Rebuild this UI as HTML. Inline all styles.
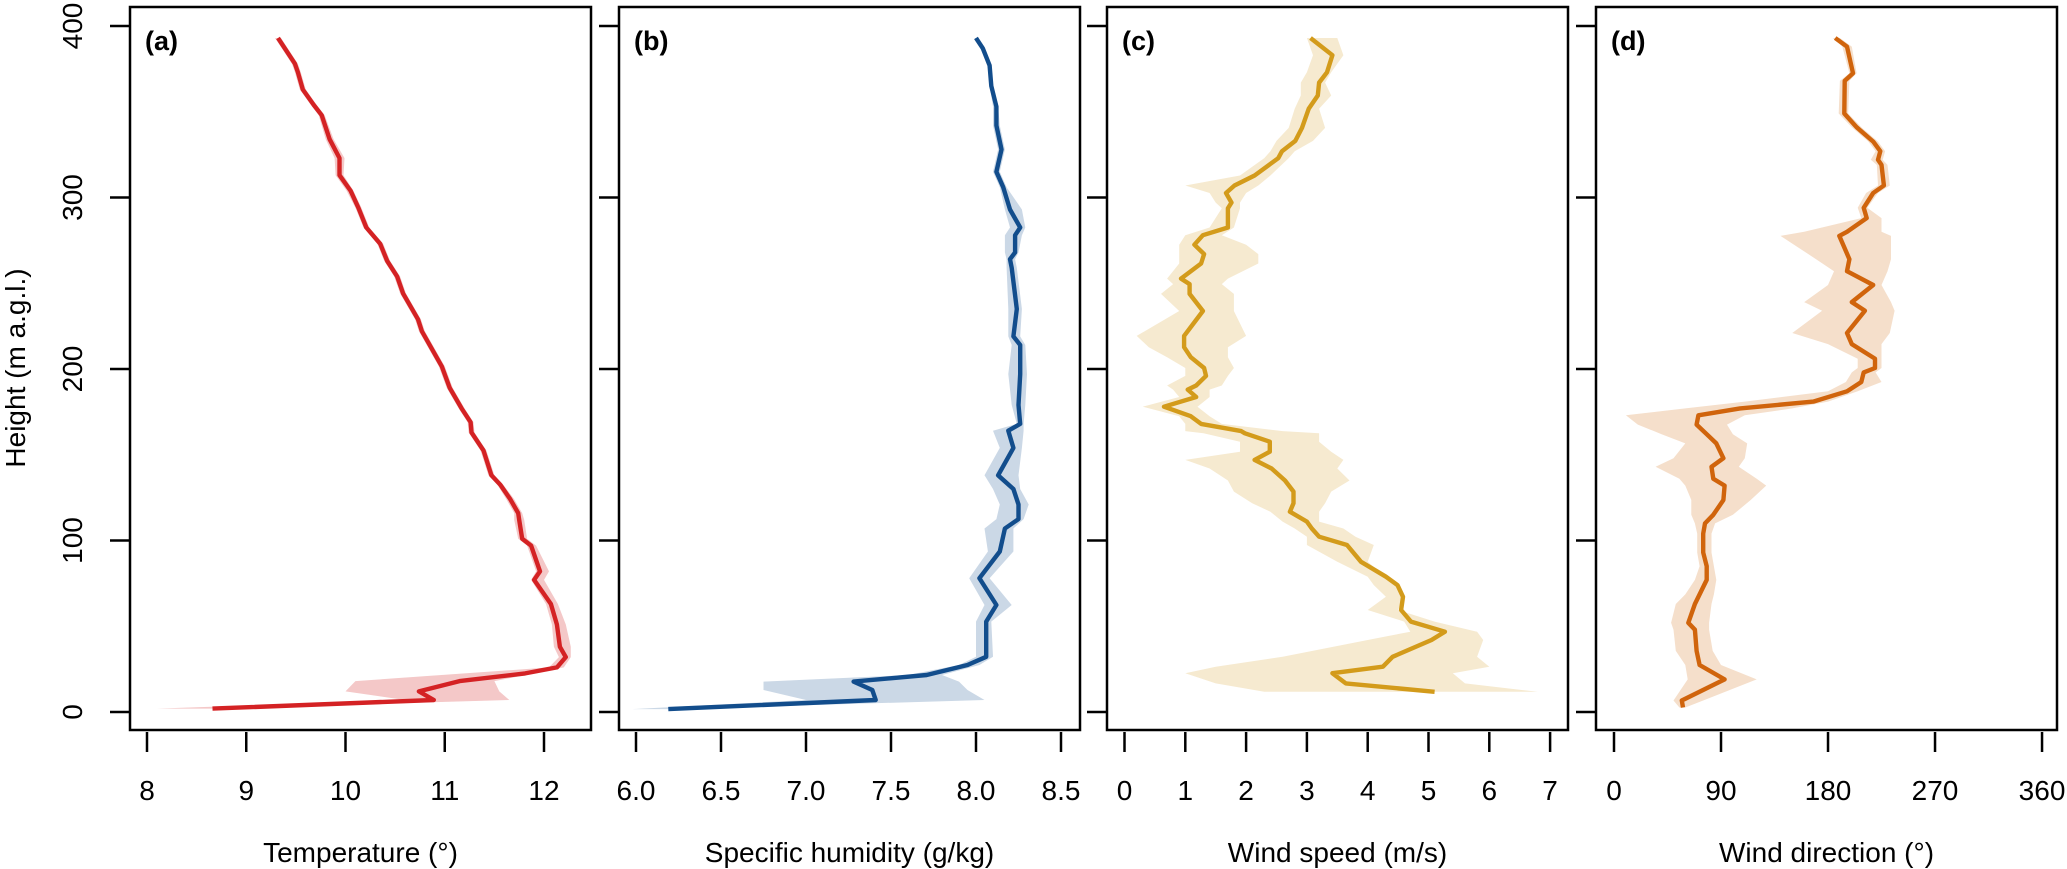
<!DOCTYPE html>
<html><head><meta charset="utf-8"><style>
html,body{margin:0;padding:0;background:#fff;}
svg{display:block;font-family:"Liberation Sans",Arial,sans-serif;}
</style></head><body>
<svg id="fig" width="2067" height="869" viewBox="0 0 2067 869"></svg>
<script>
// Panel (a) temperature
const tempHeights=[393,378,373,363,354,348,334,323,313,304,294,282.5,273,263,254,244,229,222,201.5,189,177,169,163,152.5,138,132.5,124,116,112,101,97,82,77,63,51,38,32,26,22.5,18,12,7,2];
const tempValues=[9.32,9.49,9.52,9.57,9.68,9.76,9.84,9.94,9.94,10.05,10.13,10.21,10.35,10.42,10.52,10.58,10.73,10.77,10.97,11.05,11.17,11.26,11.27,11.39,11.47,11.56,11.66,11.74,11.75,11.78,11.87,11.96,11.90,12.07,12.13,12.16,12.22,12.13,11.81,11.15,10.74,10.89,8.66];
const tempLo=[9.29,9.46,9.49,9.54,9.65,9.73,9.80,9.89,9.90,10.01,10.10,10.18,10.32,10.39,10.49,10.55,10.70,10.74,10.94,11.02,11.14,11.23,11.24,11.36,11.44,11.53,11.62,11.70,11.70,11.74,11.83,11.92,11.87,12.02,12.08,12.10,12.15,12.05,11.2,10.1,10.0,10.6,8.1];
const tempHi=[9.35,9.52,9.55,9.60,9.71,9.79,9.88,9.99,9.98,10.08,10.16,10.24,10.38,10.45,10.55,10.61,10.76,10.80,11.00,11.08,11.20,11.29,11.30,11.42,11.50,11.59,11.70,11.78,11.80,11.83,11.92,12.05,12.00,12.14,12.22,12.27,12.27,12.20,11.9,11.5,11.55,11.65,8.7];
// Panel (b) specific humidity
const humHeights=[393,387,377,365,353,342,328,315,306,293,282.5,278,268,264,259,235,219,214,197,179,168,164,154,138,130,121,112.5,107,93.6,78,62.4,52.7,32.2,27.4,21.6,17.7,12.8,7,1.7];
const humValues=[8.00,8.04,8.08,8.09,8.12,8.12,8.15,8.12,8.16,8.20,8.26,8.23,8.23,8.20,8.21,8.24,8.22,8.26,8.26,8.25,8.26,8.19,8.22,8.13,8.22,8.25,8.25,8.17,8.14,8.02,8.12,8.06,8.06,7.95,7.71,7.28,7.39,7.41,6.19];
const humLo=[7.99,8.03,8.07,8.08,8.10,8.10,8.13,8.10,8.14,8.17,8.20,8.17,8.17,8.18,8.18,8.19,8.19,8.21,8.19,8.21,8.24,8.10,8.14,8.05,8.10,8.14,8.12,8.05,8.07,7.96,8.05,8.00,8.00,7.90,7.60,6.75,6.75,7.00,5.98];
const humHi=[8.01,8.05,8.09,8.10,8.13,8.14,8.17,8.14,8.18,8.27,8.29,8.27,8.25,8.23,8.24,8.27,8.26,8.29,8.30,8.29,8.28,8.28,8.27,8.25,8.26,8.31,8.28,8.22,8.22,8.08,8.21,8.09,8.10,8.02,7.80,7.90,7.95,8.05,6.25];
// Panel (c) wind speed
const wsHeights=[393,383,373,367,359.5,351.7,340.6,333,327,323,312.8,307,302.6,297,293.7,282.5,278,272.5,267,261.5,252.7,249.5,243.8,233.8,219.3,212.7,206.9,200.6,196,190.4,188,183.7,178,172.5,168,163.8,162.5,157.6,151.8,147,142,135,128.5,121.7,116.8,111,107,102.2,97.4,87.6,78.9,74,67.2,59.5,52.7,46.8,42,32.2,26.4,22.6,16.7,11.8];
const wsValues=[3.06,3.42,3.33,3.2,3.18,3.03,2.92,2.81,2.59,2.53,2.14,1.81,1.67,1.76,1.70,1.70,1.29,1.15,1.31,1.26,0.93,1.07,1.07,1.29,0.98,0.98,1.09,1.31,1.34,1.18,1.04,1.18,0.65,1.09,1.26,1.92,1.98,2.39,2.39,2.14,2.42,2.64,2.78,2.78,2.72,3.0,3.08,3.2,3.66,3.89,4.30,4.49,4.58,4.55,4.71,5.27,5.05,4.41,4.25,3.42,3.64,5.10];
const wsLo=[3.0,3.1,3.0,2.9,2.9,2.8,2.7,2.5,2.4,2.3,1.9,1.0,1.4,1.5,1.6,1.4,1.0,0.9,0.9,0.9,0.7,0.8,0.6,0.9,0.2,0.4,0.7,1.0,1.0,0.7,0.8,0.9,0.3,0.9,1.0,1.0,1.3,1.9,1.9,1.0,1.4,1.7,1.8,2.1,2.4,2.6,2.8,3.0,3.0,3.5,4.0,4.1,4.3,4.0,4.6,4.7,4.0,2.6,1.5,1.0,1.5,2.3];
const wsHi=[3.5,3.6,3.4,3.3,3.4,3.2,3.3,3.1,2.8,2.7,2.4,2.2,2.0,1.9,1.9,1.8,1.6,2.0,2.2,2.2,1.7,1.6,1.8,1.8,2.0,1.7,1.7,1.8,1.7,1.6,1.4,1.4,1.2,1.4,1.6,2.6,3.2,3.2,3.4,3.6,3.5,3.7,3.4,3.3,3.2,3.2,3.6,3.8,4.1,4.0,4.3,4.5,4.6,4.5,5.1,5.8,5.9,5.8,6.0,5.4,5.6,6.8];
// Panel (d) wind direction
const wdHeights=[393,388,372.5,368,349,341,332.6,327,322,319,307,302.6,294,288,280,277.6,264,257,249,239,234,221,214.5,206,200.6,198,192.4,187,181,177,173,167.6,162,156.6,148,143,136,132,123.6,115,110,104,93,85,77,68.6,63,52,48,35.6,27.4,19,6.7,2.6];
const wdValues=[186,196,201,194,193.7,204,218,224,222,225,227,218,210,212.5,196,189.5,198,196,218,200,211,196,200,219.5,219.5,210,208,196,167.6,106,71,69.5,78,86,92,82,83.5,93,92,83.5,76.5,75,75,78,78,72,68,62.5,68,69.5,72,93,57,58];
const wdLo=[184,192,198,190,189,200,214,220,216,221,222,212,205,208,160,140,170,185,180,160,175,150,180,205,205,200,195,180,110,60,10,20,40,60,50,35,55,60,65,65,68,70,70,72,68,60,52,48,50,52,60,62,50,55];
const wdHi=[190,200,204,198,197,208,222,228,226,230,232,222,213,225,225,233,233,230,225,233,236,232,225,225,225,220,225,205,180,150,110,95,100,112,110,105,120,128,115,100,85,82,82,84,86,84,82,80,80,83,90,120,75,60];

const heightTicks=[0,100,200,300,400];
const tempTicks=["8","9","10","11","12"];
const humTicks=["6.0","6.5","7.0","7.5","8.0","8.5"];
const wsTicks=["0","1","2","3","4","5","6","7"];
const wdTicks=["0","90","180","270","360"];

const NS="http://www.w3.org/2000/svg";
const svg=document.getElementById('fig');
const TOP=7,BOT=730,PW=461;
function yScale(h){return 712-1.715*h;}
function mk(tag,attrs,parent){const e=document.createElementNS(NS,tag);for(const k in attrs)e.setAttribute(k,attrs[k]);(parent||svg).appendChild(e);return e;}

const panels=[
 {key:'temperature',left:130,x0:8,px0:147,scale:99.25,h:tempHeights,v:tempValues,lo:tempLo,hi:tempHi,ticks:tempTicks,line:'#d42224',band:'#f4c8c8',title:'Temperature (°)',tag:'(a)'},
 {key:'humidity',left:619,x0:6,px0:636,scale:170,h:humHeights,v:humValues,lo:humLo,hi:humHi,ticks:humTicks,line:'#124d8c',band:'#cbd8e6',title:'Specific humidity (g/kg)',tag:'(b)'},
 {key:'wind-speed',left:1107,x0:0,px0:1124.5,scale:60.8,h:wsHeights,v:wsValues,lo:wsLo,hi:wsHi,ticks:wsTicks,line:'#d39b1b',band:'#f6ead0',title:'Wind speed (m/s)',tag:'(c)'},
 {key:'wind-direction',left:1596,x0:0,px0:1614,scale:1.189,h:wdHeights,v:wdValues,lo:wdLo,hi:wdHi,ticks:wdTicks,line:'#d0640c',band:'#f5dfcb',title:'Wind direction (°)',tag:'(d)'}
];

panels.forEach((p,pi)=>{
  const g=mk('g',{});
  
  
  const xs=v=>p.px0+(v-p.x0)*p.scale;
  const clipId='clip'+pi;
  const cp=mk('clipPath',{id:clipId},g);
  mk('rect',{x:p.left,y:TOP,width:PW,height:BOT-TOP},cp);
  let pts=[];
  for(let i=0;i<p.h.length;i++)pts.push(xs(p.hi[i]).toFixed(1)+','+yScale(p.h[i]).toFixed(1));
  for(let i=p.h.length-1;i>=0;i--)pts.push(xs(p.lo[i]).toFixed(1)+','+yScale(p.h[i]).toFixed(1));
  const band=mk('polygon',{points:pts.join(' '),fill:p.band,stroke:'none','clip-path':'url(#'+clipId+')'},g);
  
  
  const lp=p.h.map((h,i)=>xs(p.v[i]).toFixed(1)+','+yScale(h).toFixed(1)).join(' ');
  const line=mk('polyline',{points:lp,fill:'none',stroke:p.line,'stroke-width':4.4,'stroke-linejoin':'round','clip-path':'url(#'+clipId+')'},g);
  
  
  const box=mk('rect',{x:p.left,y:TOP,width:PW,height:BOT-TOP,fill:'none',stroke:'#000','stroke-width':2.5},g);
  
  
  const tg=mk('text',{x:p.left+15,y:50,'font-size':27,'font-weight':'bold',fill:'#000'},g);
  tg.textContent=p.tag;
  
  
  heightTicks.forEach(t=>{
    const y=yScale(t);
    const tk=mk('line',{x1:p.left-20,x2:p.left,y1:y,y2:y,stroke:'#000','stroke-width':2.5},g);
    
    
    if(pi===0){
      const lb=mk('text',{x:0,y:0,'font-size':28,'text-anchor':'middle',transform:'translate(82,'+y+') rotate(-90)',fill:'#000'},g);
      lb.textContent=String(t);
      
      
    }
  });
  p.ticks.forEach(t=>{
    const x=xs(parseFloat(t));
    const tk=mk('line',{x1:x,x2:x,y1:BOT+2,y2:BOT+22,stroke:'#000','stroke-width':2.5},g);
    
    
    const lb=mk('text',{x:x,y:800,'font-size':28,'text-anchor':'middle',fill:'#000'},g);
    lb.textContent=t;
    
    
  });
  const tt=mk('text',{x:p.left+PW/2,y:862,'font-size':28,'text-anchor':'middle',fill:'#000'},g);
  tt.textContent=p.title;
  
  
});
const yt=mk('text',{x:0,y:0,'font-size':28,'text-anchor':'middle',transform:'translate(25,368) rotate(-90)',fill:'#000'});
yt.textContent='Height (m a.g.l.)';


</script>
</body></html>
